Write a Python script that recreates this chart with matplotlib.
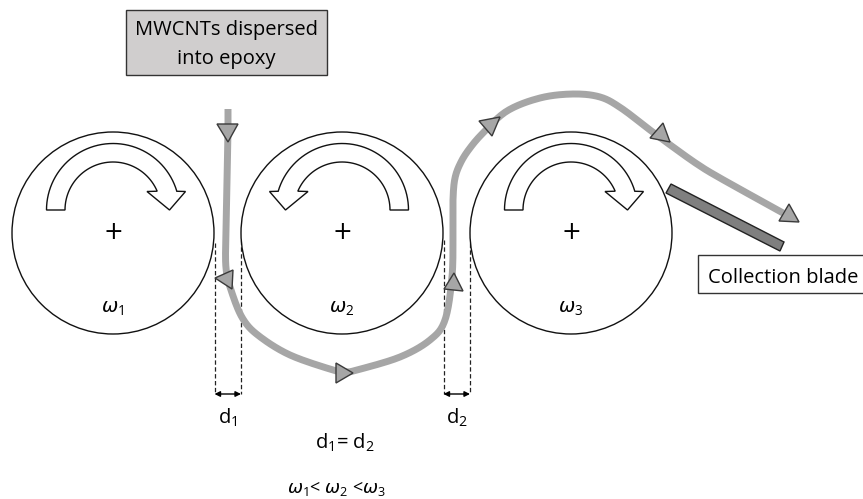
import numpy as np
import matplotlib
matplotlib.use("Agg")
import matplotlib.pyplot as plt
from matplotlib.patches import Circle, Polygon, Rectangle

plt.rcParams['font.family'] = ['Open Sans', 'DejaVu Sans']
plt.rcParams['mathtext.fontset'] = 'custom'
plt.rcParams['mathtext.rm'] = 'Open Sans'
plt.rcParams['mathtext.it'] = 'Open Sans:italic'
plt.rcParams['mathtext.default'] = 'regular'

# Diagram geometry (pixel coordinates)
roller_x = [113, 342, 571]
roller_y = 233
roller_r = 101
roller_labels = [r'$\mathit{\omega}_1$', r'$\mathit{\omega}_2$', r'$\mathit{\omega}_3$']
turn_dir = [1, -1, 1]
flow_pts = [(228,109),(228,130),(227,180),(226,230),(226,268),(232,293),(243,319),(259,336),
            (290,355),(333,370),(345,372),(357,370),(400,357),(430,340),(445,320),(452,277),
            (453,233),(453,200),(455,178),(461,162),(470,148),(483,133),(507,111),(540,98),(573,94),(600,97),
            (621,108),(650,130),(673,147),(697,164),(720,178),(783,213)]
triangles = [[(217,124),(238,124),(228,142)],
             [(215,278),(233,270),(232,289)],
             [(336,363),(353,373),(336,383)],
             [(444,289),(454,273),(463,291)],
             [(479,121),(500,117),(492,136)],
             [(650,138),(663,123),(670,142)],
             [(779,221),(789,204),(799,222)]]
blade = [(671,184),(784,242),(780,251),(666,193)]
gap_x = [(214.5,241),(443.5,470)]
gap_labels = ['d$_1$','d$_2$']

fig = plt.figure(figsize=(8.63,4.99),dpi=100)
ax = fig.add_axes([0,0,1,1])
ax.set_xlim(0,863); ax.set_ylim(499,0); ax.axis('off')

def smooth(pts,n=14):
    p=np.array(pts,float)
    p=np.vstack([p[0],p,p[-1]])
    out=[]
    for i in range(1,len(p)-2):
        for t in np.linspace(0,1,n,endpoint=False):
            a,b,c,d=p[i-1],p[i],p[i+1],p[i+2]
            out.append(0.5*(2*b+(c-a)*t+(2*a-5*b+4*c-d)*t**2+(3*b-a-3*c+d)*t**3))
    out.append(p[-2])
    return np.array(out)

def turn_arrow(cx,sgn):
    cy=210; ro=66.5; ri=48
    end=np.arctan2(18.5,63)
    ang=np.linspace(np.pi,end,50)
    outer=np.c_[ro*np.cos(ang),-ro*np.sin(ang)]
    ang2=np.linspace(np.arctan2(18.5,43.5),np.pi,50)
    inner=np.c_[ri*np.cos(ang2),-ri*np.sin(ang2)]
    head=np.array([[72.5,-18.5],[56.5,0],[34,-18.5]])
    pts=np.vstack([outer,head,inner])
    pts[:,0]=cx+sgn*pts[:,0]; pts[:,1]+=cy
    ax.add_patch(Polygon(pts,closed=True,fc='white',ec='#111111',lw=1.0,zorder=3))

for x,lab,s in zip(roller_x,roller_labels,turn_dir):
    ax.add_patch(Circle((x,roller_y),roller_r,fc='white',ec='#111111',lw=1.0,zorder=2))
    turn_arrow(x,s)
    ax.text(x,roller_y-1,'+',ha='center',va='center',fontsize=17,color='black',zorder=4,family='DejaVu Sans')
    ax.text(x,308,lab,ha='center',va='center',fontsize=14,math_fontfamily='dejavusans',zorder=4)

f=smooth(flow_pts)
ax.plot(f[:,0],f[:,1],color='#a6a6a6',lw=5,solid_capstyle='butt',zorder=5)
for t in triangles:
    ax.add_patch(Polygon(t,closed=True,fc='#a6a6a6',ec='#3a3a3a',lw=1.0,zorder=6))
ax.add_patch(Polygon(blade,closed=True,fc='#7f7f7f',ec='#222222',lw=1.0,zorder=6))

for (a,b),lab,top in zip(gap_x,gap_labels,[(243,240),(240,243)]):
    ax.plot([a,a],[top[0],394],color='#222222',lw=0.9,ls=(0,(3.5,2)),zorder=1)
    ax.plot([b,b],[top[1],394],color='#222222',lw=0.9,ls=(0,(3.5,2)),zorder=1)
    ax.annotate('',xy=(a,394),xytext=(b,394),arrowprops=dict(arrowstyle='<|-|>',color='black',lw=1,mutation_scale=8,shrinkA=0,shrinkB=0),zorder=7)
    ax.text((a+b)/2,418,lab,ha='center',va='center',fontsize=14.5)

ax.text(345,443,'d$_1$= d$_2$',ha='center',va='center',fontsize=14.5)
ax.text(337,488,r'$\mathit{\omega}_1$< $\mathit{\omega}_2$ <$\mathit{\omega}_3$',ha='center',va='center',fontsize=13,math_fontfamily='dejavusans')

ax.add_patch(Rectangle((126,10),201,65,fc='#d0cece',ec='#333333',lw=1.0))
ax.text(226.5,44.5,'MWCNTs dispersed\ninto epoxy',ha='center',va='center',fontsize=14.5,linespacing=1.55)
ax.add_patch(Rectangle((698,255),170,38,fc='white',ec='#333333',lw=1.0))
ax.text(783.5,278,'Collection blade',ha='center',va='center',fontsize=14.5)

fig.savefig('out.png',dpi=100)
